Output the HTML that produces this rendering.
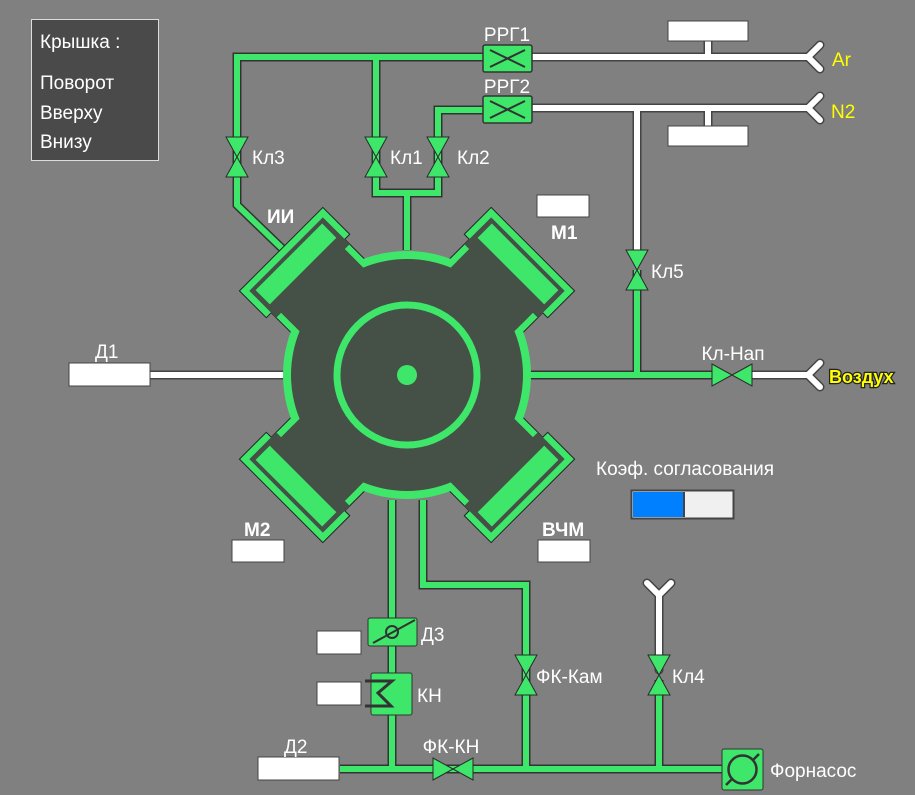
<!DOCTYPE html>
<html><head><meta charset="utf-8"><style>
html,body{margin:0;padding:0;background:#808080;}
svg{display:block;}
text{font-family:"Liberation Sans",sans-serif;fill:#fff;}
</style></head><body>
<svg width="915" height="795" viewBox="0 0 915 795" xmlns="http://www.w3.org/2000/svg">
<defs>
<g id="arm">
  <polygon points="-59,-178 59,-178 59,-140 52,-140 52,-95 -52,-95 -52,-140 -59,-140" fill="#3ee66a" stroke="#222" stroke-width="1"/>
  <polygon points="-52,-171 52,-171 52,-133 45,-133 45,-95 -45,-95 -45,-133 -52,-133" fill="#455046"/>
  <rect x="-51" y="-170" width="102" height="26" fill="#455046"/>
  <rect x="-47" y="-167" width="94" height="20" fill="#3ee66a"/>
</g>
<g id="vv"><polygon points="-11,-20 11,-20 0,0 11,20 -11,20 0,0" fill="#3ee66a" stroke="#2a2a2a" stroke-width="1"/></g>
<g id="vh"><polygon points="-20,-11 -20,11 0,0 20,11 20,-11 0,0" fill="#3ee66a" stroke="#2a2a2a" stroke-width="1"/></g>
</defs>

<!-- legend -->
<rect x="31.5" y="19.5" width="127" height="141" fill="#4a4a4a" stroke="#ddd" stroke-width="1"/>
<text x="40" y="48" font-size="19">Крышка :</text>
<text x="40" y="89" font-size="19">Поворот</text>
<text x="40" y="119" font-size="19">Вверху</text>
<text x="40" y="148" font-size="19">Внизу</text>

<!-- white pipes -->
<g stroke-linecap="round" fill="none">
<g stroke="#444" stroke-width="9">
  <path d="M532 57 H808 M708 41 V57 M820 45 L808 57 L820 69"/>
  <path d="M532 108 H808 M708 108 V126 M820 96 L808 108 L820 120 M637 108 V255"/>
  <path d="M752 375 H808 M820 363 L808 375 L820 387"/>
  <path d="M659 670 V595 L647 583 M659 595 L671 583"/>
  <path d="M150 375 H290"/>
</g>
<g stroke="#fff" stroke-width="6">
  <path d="M532 57 H808 M708 41 V57 M820 45 L808 57 L820 69"/>
  <path d="M532 108 H808 M708 108 V126 M820 96 L808 108 L820 120 M637 108 V255"/>
  <path d="M752 375 H808 M820 363 L808 375 L820 387"/>
  <path d="M659 670 V595 L647 583 M659 595 L671 583"/>
  <path d="M150 375 H290"/>
</g>
</g>

<!-- green pipes -->
<g fill="none" stroke-linejoin="miter">
<g stroke="#333" stroke-width="9">
  <path d="M483 57 H237 V205 L292 258 M376 57 V193 H438 V110 H483 M407 193 V250"/>
  <path d="M637 270 V375 M530 375 H712"/>
  <path d="M392 500 V769 M340 769 H724 M423 500 V585 H526 V769 M659 680 V769"/>
</g>
<g stroke="#3ee66a" stroke-width="6">
  <path d="M483 57 H237 V205 L292 258 M376 57 V193 H438 V110 H483 M407 193 V250"/>
  <path d="M637 270 V375 M530 375 H712"/>
  <path d="M392 500 V769 M340 769 H724 M423 500 V585 H526 V769 M659 680 V769"/>
</g>
</g>

<!-- chamber -->
<g transform="translate(407,375)">
  <use href="#arm" transform="rotate(-45)"/>
  <use href="#arm" transform="rotate(45)"/>
  <use href="#arm" transform="rotate(135)"/>
  <use href="#arm" transform="rotate(225)"/>
  <circle r="124" fill="#3ee66a"/>
  <circle r="116" fill="#455046"/>
  <g fill="#455046">
    <rect x="-45" y="-160" width="90" height="60" transform="rotate(-45)"/>
    <rect x="-45" y="-160" width="90" height="60" transform="rotate(45)"/>
    <rect x="-45" y="-160" width="90" height="60" transform="rotate(135)"/>
    <rect x="-45" y="-160" width="90" height="60" transform="rotate(225)"/>
  </g>
  <g>
    <rect x="-47" y="-167" width="94" height="20" fill="#3ee66a" transform="rotate(-45)"/>
    <rect x="-47" y="-167" width="94" height="20" fill="#3ee66a" transform="rotate(45)"/>
    <rect x="-47" y="-167" width="94" height="20" fill="#3ee66a" transform="rotate(135)"/>
    <rect x="-47" y="-167" width="94" height="20" fill="#3ee66a" transform="rotate(225)"/>
  </g>
  <circle r="70" fill="none" stroke="#3ee66a" stroke-width="7"/>
  <circle r="10" fill="#3ee66a"/>
</g>

<!-- RRG -->
<g stroke="#333" stroke-width="1.5">
  <rect x="483" y="45" width="49" height="27" rx="2" fill="#3ee66a"/>
  <path d="M490 50 L525 67 M490 67 L525 50" stroke-width="2"/>
  <rect x="483" y="96" width="49" height="27" rx="2" fill="#3ee66a"/>
  <path d="M490 101 L525 118 M490 118 L525 101" stroke-width="2"/>
</g>
<text x="507" y="41" font-size="19" text-anchor="middle">РРГ1</text>
<text x="507" y="93" font-size="19" text-anchor="middle">РРГ2</text>

<!-- valves -->
<use href="#vv" x="237" y="157"/>
<use href="#vv" x="376" y="157"/>
<use href="#vv" x="438" y="157"/>
<use href="#vv" x="637" y="270"/>
<use href="#vv" x="526" y="675"/>
<use href="#vv" x="659" y="675"/>
<use href="#vh" x="732" y="375"/>
<use href="#vh" x="453" y="769"/>
<text x="252" y="164" font-size="19">Кл3</text>
<text x="390" y="164" font-size="19">Кл1</text>
<text x="457" y="164" font-size="19">Кл2</text>
<text x="651" y="278" font-size="19">Кл5</text>
<text x="733" y="360" font-size="19" text-anchor="middle">Кл-Нап</text>
<text x="536" y="683" font-size="19">ФК-Кам</text>
<text x="672" y="683" font-size="19">Кл4</text>
<text x="451" y="753" font-size="19" text-anchor="middle">ФК-КН</text>

<!-- gas labels -->
<text x="832" y="66" font-size="19" style="fill:#ffff00">Ar</text>
<text x="831" y="118" font-size="19" style="fill:#ffff00">N2</text>
<text x="829" y="383" font-size="18" font-weight="bold" style="fill:#ffff00;stroke:#222;stroke-width:2.5;paint-order:stroke">Воздух</text>

<!-- boxes -->
<g fill="#fff" stroke="#444" stroke-width="1">
  <rect x="668" y="21" width="80" height="20"/>
  <rect x="668" y="126" width="80" height="20"/>
  <rect x="537" y="195" width="52" height="22"/>
  <rect x="69" y="363" width="81" height="23"/>
  <rect x="232" y="540" width="52" height="22"/>
  <rect x="538" y="540" width="52" height="22"/>
  <rect x="317" y="631" width="44" height="23"/>
  <rect x="317" y="682" width="44" height="23"/>
  <rect x="258" y="757" width="81" height="23"/>
</g>
<text x="267" y="223" font-size="19" font-weight="bold">ИИ</text>
<text x="551" y="239" font-size="19" font-weight="bold">М1</text>
<text x="244" y="536" font-size="19" font-weight="bold">М2</text>
<text x="542" y="536" font-size="19" font-weight="bold">ВЧМ</text>
<text x="95" y="358" font-size="19">Д1</text>
<text x="284" y="753" font-size="19">Д2</text>

<!-- Д3 / КН -->
<rect x="368" y="618" width="49" height="28" rx="2" fill="#3ee66a" stroke="#333" stroke-width="1"/>
<path d="M373 643 L415 620" stroke="#333" stroke-width="2"/>
<circle cx="392" cy="632" r="6" fill="none" stroke="#333" stroke-width="2"/>
<text x="421" y="641" font-size="19">Д3</text>
<rect x="371" y="673" width="41" height="42" rx="2" fill="#3ee66a" stroke="#333" stroke-width="1"/>
<path d="M365 681 H392 L378 693 L391 706 H365" fill="none" stroke="#333" stroke-width="3"/>
<text x="417" y="702" font-size="19">КН</text>

<!-- pump -->
<rect x="722" y="749" width="41" height="41" rx="2" fill="#3ee66a" stroke="#333" stroke-width="1"/>
<circle cx="742.5" cy="769.5" r="14" fill="none" stroke="#333" stroke-width="2.5"/>
<path d="M726 785 L732 779 M753 760 L759 754" stroke="#333" stroke-width="2.5"/>
<text x="770" y="777" font-size="19">Форнасос</text>

<!-- coef -->
<text x="596" y="475" font-size="19">Коэф. согласования</text>
<rect x="631.5" y="490.5" width="102" height="28" fill="#f0f0f0" stroke="#444" stroke-width="2"/>
<rect x="633" y="492" width="50" height="25" fill="#0080ff"/>
<rect x="683" y="492" width="2" height="25" fill="#444"/>
</svg>
</body></html>
